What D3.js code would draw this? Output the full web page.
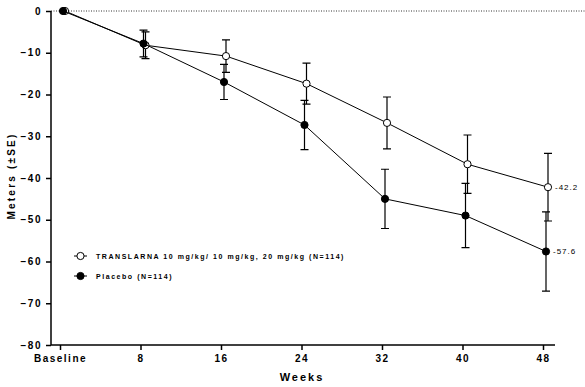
<!DOCTYPE html>
<html>
<head>
<meta charset="utf-8">
<script src="https://cdn.jsdelivr.net/npm/d3@7"></script>
<style>
  body { margin: 0; background: #fff; }
  svg { font-family: "Liberation Sans", Arial, sans-serif; }
  .axis path, .axis line { stroke: #000; stroke-width: 1.5; }
  .axis text { font-size: 10px; font-weight: bold; letter-spacing: 1.5px; fill: #000; }
</style>
</head>
<body>
<div id="chart"></div>
<script>
var weeks = [0, 8, 16, 24, 32, 40, 48];
var weekLabels = ['Baseline', '8', '16', '24', '32', '40', '48'];
var yTicks = [0, -10, -20, -30, -40, -50, -60, -70, -80];

var translarnaMean = [0, -8.2, -10.8, -17.4, -26.8, -36.7, -42.2];
var translarnaSE = [0, 3.2, 3.9, 4.9, 6.2, 7.0, 8.1];
var placeboMean = [0, -7.8, -17.0, -27.3, -45.0, -49.0, -57.6];
var placeboSE = [0, 3.2, 4.2, 5.9, 7.1, 7.7, 9.5];

var seriesNames = ['TRANSLARNA 10 mg/kg/ 10 mg/kg, 20 mg/kg (N=114)', 'Placebo (N=114)'];

var W = 585, H = 387;
var margin = { left: 51, top: 11, right: 30, bottom: 42 };

var x = d3.scaleLinear().domain([0, 48]).range([60, 543]);
var y = d3.scaleLinear().domain([-80, 0]).range([H - margin.bottom, margin.top]);

var svg = d3.select('#chart').append('svg')
  .attr('width', W)
  .attr('height', H);

// dotted zero line
svg.append('line')
  .attr('x1', margin.left).attr('x2', W)
  .attr('y1', y(0)).attr('y2', y(0))
  .attr('stroke', '#000')
  .attr('stroke-width', 0.8)
  .attr('stroke-dasharray', '1,1.5');

// y axis
var yAxis = d3.axisLeft(y).tickValues(yTicks).tickSize(5).tickPadding(4);
svg.append('g')
  .attr('class', 'axis')
  .attr('transform', 'translate(' + margin.left + ',0)')
  .call(yAxis)
  .call(function(g) { g.select('.domain').attr('d', 'M0,' + y(0) + 'V' + y(-80)); });

// x axis
var xAxis = d3.axisBottom(x).tickValues(weeks)
  .tickFormat(function(d, i) { return weekLabels[i]; })
  .tickSize(5).tickPadding(5);
svg.append('g')
  .attr('class', 'axis')
  .attr('transform', 'translate(0,' + y(-80) + ')')
  .call(xAxis)
  .call(function(g) { g.select('.domain').attr('d', 'M' + margin.left + ',0H555'); });

// axis titles
svg.append('text')
  .attr('x', 302).attr('y', 381)
  .attr('text-anchor', 'middle')
  .style('font-size', '11px').style('font-weight', 'bold').style('letter-spacing', '2px')
  .text('Weeks');
svg.append('text')
  .attr('transform', 'translate(15,' + 176 + ') rotate(-90)')
  .attr('text-anchor', 'middle')
  .style('font-size', '10px').style('font-weight', 'bold').style('letter-spacing', '2.2px')
  .text('Meters (±SE)');

var series = [
  { mean: translarnaMean, se: translarnaSE, fill: '#fff', dx: 5 },
  { mean: placeboMean, se: placeboSE, fill: '#000', dx: 3 }
];

var line = d3.line();

series.forEach(function(s) {
  var pts = weeks.map(function(w, i) { return [x(w) + s.dx, y(s.mean[i])]; });
  svg.append('path')
    .attr('d', line(pts))
    .attr('fill', 'none')
    .attr('stroke', '#000')
    .attr('stroke-width', 1);

  var eb = svg.append('g');
  weeks.forEach(function(w, i) {
    if (!s.se[i]) return;
    var cx = x(w) + s.dx;
    var y1 = y(s.mean[i] + s.se[i]), y2 = y(s.mean[i] - s.se[i]);
    eb.append('path')
      .attr('d', 'M' + cx + ',' + y1 + 'V' + y2 + 'M' + (cx - 4) + ',' + y1 + 'H' + (cx + 4) + 'M' + (cx - 4) + ',' + y2 + 'H' + (cx + 4))
      .attr('fill', 'none')
      .attr('stroke', '#000')
      .attr('stroke-width', 1.2);
  });

  svg.append('g').selectAll('circle')
    .data(pts)
    .enter().append('circle')
    .attr('cx', function(d) { return d[0]; })
    .attr('cy', function(d) { return d[1]; })
    .attr('r', 3.6)
    .attr('fill', s.fill)
    .attr('stroke', '#000')
    .attr('stroke-width', 1);
});

// end value labels
[translarnaMean, placeboMean].forEach(function(m, k) {
  var last = m[m.length - 1];
  svg.append('text')
    .attr('x', x(48) + series[k].dx + 7)
    .attr('y', y(last) + 3)
    .style('font-size', '8px').style('letter-spacing', '1px')
    .text(last.toFixed(1));
});

// legend
seriesNames.forEach(function(name, i) {
  var ly = 256 + i * 20;
  var g = svg.append('g');
  g.append('line')
    .attr('x1', 74).attr('x2', 87).attr('y1', ly).attr('y2', ly)
    .attr('stroke', '#000').attr('stroke-width', 1);
  g.append('circle')
    .attr('cx', 80.5).attr('cy', ly).attr('r', 3.6)
    .attr('fill', series[i].fill).attr('stroke', '#000');
  g.append('text')
    .attr('x', 96).attr('y', ly + 3)
    .style('font-size', '7px').style('font-weight', 'bold').style('letter-spacing', '1.55px')
    .text(name);
});
</script>
</body>
</html>
